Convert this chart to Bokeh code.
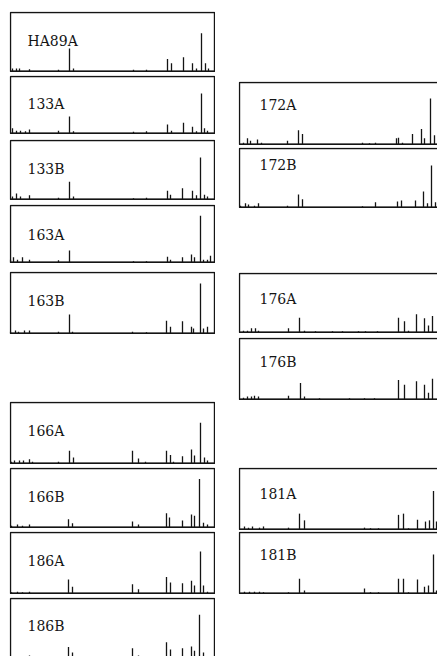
from bokeh.plotting import figure
from bokeh.layouts import column, row
from bokeh.models import Range1d, Label, Spacer
from bokeh.embed import file_html
from bokeh.resources import INLINE

# ---- data: peak position (retention, arbitrary units) and relative height (%) ----
ha89a_rt = [2, 6, 9, 19, 48, 59, 63, 123, 136, 157, 161, 173, 182, 186, 191, 195, 198]
ha89a_ht = [5, 5, 5, 4, 3, 39, 5, 3, 3, 21, 14, 24, 14, 5, 65, 14, 5]
s133a_rt = [2, 6, 10, 15, 19, 48, 59, 63, 123, 136, 157, 161, 173, 182, 186, 191, 194, 197]
s133a_ht = [9, 5, 5, 4, 7, 5, 30, 4, 3, 4, 16, 5, 19, 12, 4, 70, 9, 5]
s133b_rt = [2, 6, 10, 19, 48, 59, 63, 123, 136, 157, 160, 172, 182, 186, 190, 194, 197]
s133b_ht = [5, 10, 5, 7, 3, 30, 5, 2, 3, 15, 8, 19, 15, 7, 71, 8, 5]
s163a_rt = [0, 3, 7, 12, 19, 48, 59, 123, 136, 157, 160, 172, 181, 184, 190, 193, 197, 200]
s163a_ht = [5, 9, 5, 9, 5, 4, 21, 2, 2, 10, 5, 9, 14, 9, 82, 5, 5, 12]
s163b_rt = [0, 5, 8, 14, 19, 48, 59, 62, 122, 136, 156, 160, 172, 181, 183, 190, 193, 197]
s163b_ht = [3, 5, 3, 5, 5, 3, 31, 3, 3, 2, 21, 11, 20, 11, 8, 82, 8, 11]
s166a_rt = [1, 4, 9, 13, 19, 22, 48, 59, 63, 122, 128, 135, 156, 160, 163, 172, 181, 184, 190, 194, 197]
s166a_ht = [3, 5, 5, 5, 7, 3, 3, 21, 10, 21, 8, 3, 21, 14, 3, 12, 23, 13, 67, 10, 5]
s166b_rt = [1, 7, 12, 19, 58, 62, 122, 128, 156, 159, 172, 181, 184, 189, 193, 197]
s166b_ht = [3, 5, 3, 5, 14, 7, 10, 5, 24, 17, 12, 22, 20, 82, 8, 5]
s186a_rt = [1, 7, 12, 19, 58, 62, 122, 128, 156, 160, 172, 181, 184, 190, 193, 197]
s186a_ht = [2, 3, 2, 3, 23, 11, 15, 7, 27, 18, 17, 21, 13, 69, 13, 3]
s186b_rt = [7, 19, 58, 62, 122, 128, 156, 160, 172, 181, 184, 189, 193]
s186b_ht = [3, 5, 19, 10, 17, 5, 27, 15, 17, 20, 13, 73, 10]
s172a_rt = [4, 8, 11, 18, 22, 48, 59, 63, 123, 130, 136, 157, 159, 163, 173, 182, 185, 191, 195]
s172a_ht = [3, 10, 6, 8, 3, 6, 23, 17, 3, 2, 3, 10, 11, 3, 17, 25, 10, 74, 15]
s172b_rt = [1, 6, 9, 15, 19, 48, 59, 63, 123, 136, 158, 162, 176, 184, 188, 192, 196]
s172b_ht = [3, 7, 5, 3, 7, 3, 22, 14, 2, 9, 10, 12, 12, 27, 7, 71, 9]
s176a_rt = [4, 8, 12, 16, 19, 49, 60, 65, 76, 93, 103, 119, 126, 138, 159, 165, 169, 177, 185, 189, 193]
s176a_ht = [3, 3, 7, 7, 3, 7, 25, 3, 2, 2, 2, 2, 2, 2, 25, 19, 3, 31, 24, 12, 28]
s176b_rt = [4, 8, 12, 15, 19, 49, 61, 65, 80, 110, 125, 135, 159, 165, 177, 185, 189, 193]
s176b_ht = [3, 5, 5, 6, 5, 6, 27, 5, 2, 2, 2, 2, 32, 24, 30, 24, 11, 34]
s181a_rt = [5, 9, 13, 20, 24, 49, 60, 65, 125, 131, 139, 159, 164, 169, 178, 186, 190, 194, 197]
s181a_ht = [5, 3, 5, 3, 5, 3, 26, 15, 3, 2, 2, 24, 26, 2, 16, 13, 15, 63, 13]
s181b_rt = [5, 10, 15, 20, 24, 49, 60, 65, 125, 131, 139, 159, 164, 169, 178, 185, 189, 194, 197]
s181b_ht = [3, 3, 3, 3, 2, 2, 24, 5, 8, 2, 2, 24, 24, 2, 23, 11, 13, 64, 5]

left_names = ["HA89A", "133A", "133B", "163A", "163B", "166A", "166B", "186A", "186B"]
left_data = [(ha89a_rt, ha89a_ht), (s133a_rt, s133a_ht), (s133b_rt, s133b_ht),
             (s163a_rt, s163a_ht), (s163b_rt, s163b_ht), (s166a_rt, s166a_ht),
             (s166b_rt, s166b_ht), (s186a_rt, s186a_ht), (s186b_rt, s186b_ht)]
right_names = ["172A", "172B", "176A", "176B", "181A", "181B"]
right_data = [(s172a_rt, s172a_ht), (s172b_rt, s172b_ht), (s176a_rt, s176a_ht),
              (s176b_rt, s176b_ht), (s181a_rt, s181a_ht), (s181b_rt, s181b_ht)]

# ---- layout (page pixels): figure top, box height, figure height, label baseline offset ----
left_layout = [(11, 59, 61, 28), (75, 57, 59, 27), (139, 59, 61, 28), (204, 57, 59, 29),
               (271, 61, 63, 28), (401, 61, 63, 28), (467, 59, 61, 28), (531, 61, 63, 28),
               (597, 60, 59, 27)]
right_layout = [(81, 62, 64, 22), (147, 59, 61, 16), (272, 59, 61, 25), (337, 61, 63, 23),
                (467, 61, 63, 25), (531, 61, 63, 22)]

INK = "#141414"
BOX_W = 204
FONT = "DejaVu Serif"


def panel(name, rt, ht, box_h, fig_h, fig_w, lab_off, lab_x):
    u = 100.0 / box_h
    y_end = 100 + u
    p = figure(width=fig_w, height=fig_h, output_backend="svg", toolbar_location=None,
               x_range=Range1d(-1, fig_w - 1), y_range=Range1d(y_end - fig_h * u, y_end),
               x_axis_location=None, y_axis_location=None, min_border=0, title=None)
    p.grid.visible = False
    p.outline_line_color = None
    p.background_fill_color = "white"
    p.border_fill_color = "white"
    p.quad(left=0, right=BOX_W, bottom=0, top=100, fill_color=None,
           line_color=INK, line_width=1.4)
    p.segment(x0=[0], y0=[0], x1=[BOX_W], y1=[0], line_color=INK, line_width=2)
    p.segment(x0=rt, y0=[0] * len(rt), x1=rt, y1=ht, line_color=INK, line_width=1.3)
    p.add_layout(Label(x=lab_x, y=100 - lab_off * u, text=name, text_font=FONT,
                       text_font_size="14px", text_color=INK, text_align="left",
                       text_baseline="alphabetic"))
    return p


def build(names, data, layout, fig_w, lab_x):
    kids = []
    cursor = 0
    for name, (rt, ht), (top, box_h, fig_h, lab_off) in zip(names, data, layout):
        gap = top - cursor
        if gap > 0:
            kids.append(Spacer(width=fig_w, height=gap))
        kids.append(panel(name, rt, ht, box_h, fig_h, fig_w, lab_off, lab_x))
        cursor = top + fig_h
    return column(*kids, spacing=0)


left_col = build(left_names, left_data, left_layout, 206, 17)
right_col = build(right_names, right_data, right_layout, 199, 20)
page = row(Spacer(width=9, height=10), left_col, Spacer(width=23, height=10), right_col,
           spacing=0)

open("out.html", "w").write(file_html(page, INLINE))
